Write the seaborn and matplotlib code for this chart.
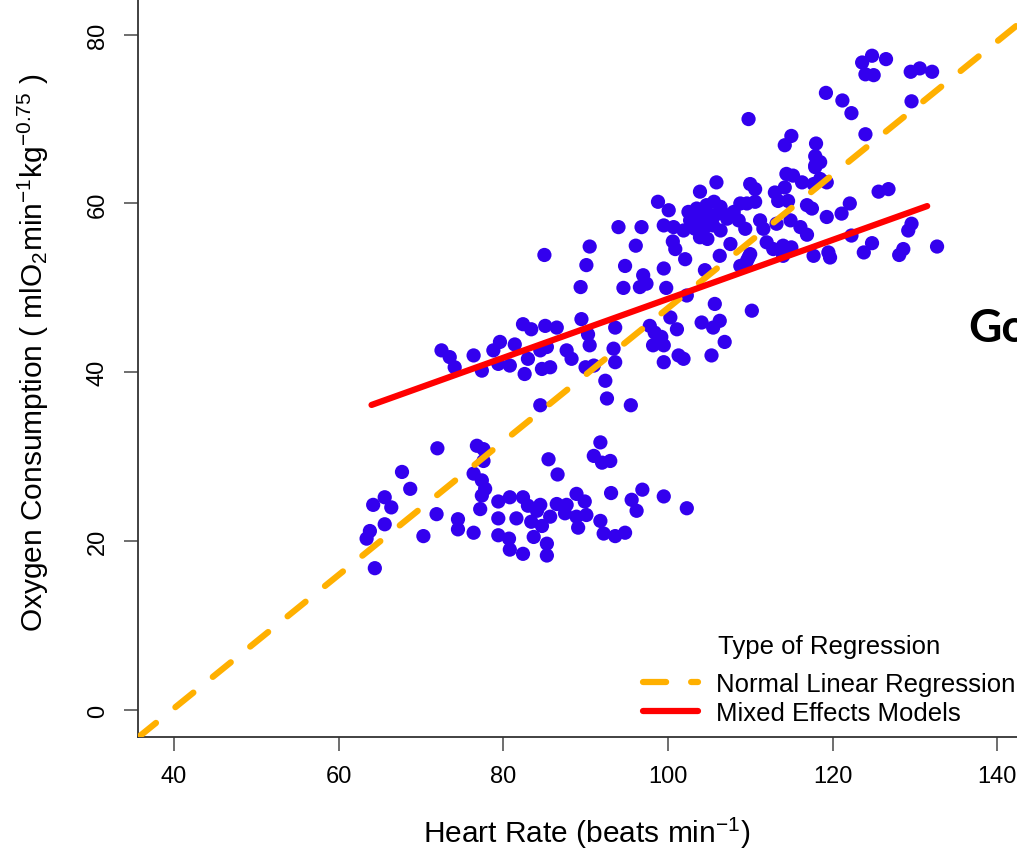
import matplotlib
matplotlib.use('Agg')
import matplotlib.pyplot as plt
from matplotlib.lines import Line2D
import numpy as np
import pandas as pd
import seaborn as sns

# heart rate (x) and oxygen consumption (y), by cluster
low_hr = [72.0, 76.8, 77.6, 77.6, 67.7, 68.7, 76.4, 77.4, 77.8, 77.4, 77.2, 65.6, 64.2, 66.4,
          71.9, 65.6, 63.8, 63.4, 70.3, 64.4, 74.5, 74.5, 76.4, 79.4, 80.8, 82.4, 83.0, 84.5,
          84.1, 79.4, 81.6, 83.4, 84.7, 85.7, 79.4, 80.7, 80.8, 82.4, 83.7, 85.3, 85.3, 85.5,
          86.6, 86.5, 87.7, 88.9, 89.9, 87.5, 88.9, 90.1, 89.1, 91.8, 91.0, 92.0, 93.0, 93.1,
          91.8, 92.2, 93.6, 94.8, 95.6, 96.2, 96.9, 99.5, 102.3]
low_vo2 = [31.0, 31.3, 30.9, 29.5, 28.2, 26.2, 28.0, 27.2, 26.2, 25.4, 23.8, 25.2, 24.3, 24.0,
           23.2, 22.0, 21.2, 20.3, 20.6, 16.8, 22.6, 21.4, 21.0, 24.7, 25.2, 25.2, 24.2, 24.3,
           23.6, 22.7, 22.7, 22.3, 21.8, 22.9, 20.7, 20.3, 19.0, 18.5, 20.5, 19.7, 18.3, 29.7,
           27.9, 24.4, 24.3, 25.6, 24.7, 23.3, 22.9, 23.1, 21.6, 31.7, 30.1, 29.3, 29.5, 25.7,
           22.4, 20.9, 20.6, 21.0, 24.9, 23.6, 26.1, 25.3, 23.9]

left_hr = [72.5, 73.5, 74.1, 76.4, 77.4, 78.8, 79.6, 79.4, 80.8, 81.4, 82.4, 83.4, 82.6, 83.0,
           84.5, 85.1, 86.5, 84.7, 85.7, 85.3, 87.7, 88.3, 89.5, 90.3, 90.5, 91.0, 90.0, 93.6,
           93.4, 93.6, 92.4, 92.6, 95.5, 84.5, 85.0, 90.5, 90.1, 89.4, 94.0]
left_vo2 = [42.6, 41.8, 40.6, 42.0, 40.2, 42.6, 43.6, 41.0, 40.8, 43.3, 45.7, 45.1, 39.8, 41.6,
            42.6, 45.5, 45.3, 40.4, 40.6, 43.0, 42.6, 41.6, 46.3, 44.5, 43.2, 40.8, 40.6, 45.3,
            42.8, 41.2, 39.0, 36.9, 36.1, 36.1, 53.9, 54.9, 52.7, 50.1, 57.2]

mid_hr = [96.1, 96.8, 94.8, 94.6, 97.0, 96.6, 97.4, 99.5, 99.8, 102.1, 104.5, 100.6, 100.9,
          102.3, 105.7, 100.3, 101.1, 104.1, 105.5, 105.3, 97.8, 98.4, 99.2, 98.2, 99.5, 99.5,
          101.3, 101.9, 106.3, 106.3, 106.9, 110.2, 107.6, 109.8, 108.8]
mid_vo2 = [55.0, 57.2, 52.6, 50.0, 51.5, 50.1, 50.5, 52.3, 50.0, 53.4, 52.1, 55.5, 54.6,
           49.1, 48.1, 46.5, 45.1, 45.9, 45.3, 42.0, 45.5, 44.7, 44.2, 43.2, 43.2, 41.2,
           42.0, 41.6, 53.8, 46.1, 43.6, 47.3, 55.2, 53.6, 52.6]

dense_hr = [98.8, 100.1, 99.5, 100.7, 105.9, 103.9, 102.5, 103.5, 104.7, 105.6, 106.4, 102.7,
            103.7, 104.7, 105.7, 106.7, 103.3, 104.5, 105.5, 101.9, 103.9, 104.8, 106.4, 107.2,
            108.0, 108.8, 108.6, 109.4, 110.0, 110.6, 109.6, 110.6, 111.2, 111.6, 112.0, 113.0,
            113.4, 114.2, 114.4, 114.6, 113.2, 114.9, 116.1, 116.9, 117.7, 117.9, 116.3, 116.9,
            117.5, 114.0, 115.0, 112.8, 114.0, 117.7, 110.0, 109.6]
dense_vo2 = [60.2, 59.2, 57.4, 57.2, 62.5, 61.4, 59.0, 59.4, 59.8, 60.2, 59.6, 58.0,
             58.2, 58.4, 58.6, 58.8, 57.0, 57.2, 57.4, 56.8, 56.0, 55.8, 56.8, 58.2,
             59.0, 60.0, 58.0, 57.0, 62.3, 61.7, 60.0, 60.2, 58.0, 57.0, 55.4, 61.3,
             60.3, 61.9, 63.5, 60.3, 57.6, 58.0, 57.2, 59.8, 62.3, 64.5, 62.5, 56.3,
             59.4, 55.0, 54.8, 54.6, 53.8, 53.8, 54.0, 53.2]

right_hr = [124.8, 123.6, 126.5, 124.0, 125.0, 129.5, 130.6, 132.1, 129.6, 119.2, 121.2, 122.3,
            109.8, 124.0, 115.0, 114.2, 118.0, 117.9, 118.5, 117.9, 115.2, 119.3, 118.5, 122.1,
            125.6, 126.8, 119.3, 121.1, 122.3, 124.8, 123.8, 129.6, 129.2, 128.6, 128.1, 132.7,
            119.5, 119.7]
right_vo2 = [77.5, 76.7, 77.1, 75.3, 75.2, 75.6, 76.0, 75.6, 72.1, 73.1, 72.2, 70.7,
             70.0, 68.2, 68.0, 66.9, 67.1, 65.6, 64.9, 64.3, 63.3, 62.5, 62.9, 60.0,
             61.4, 61.7, 58.4, 58.8, 56.2, 55.3, 54.2, 57.6, 56.8, 54.6, 53.9, 54.9,
             54.2, 53.6]

# fitted lines: (intercept, slope)
lm_coef = (-31.4, 0.79)        # normal linear regression
mixed_coef = (13.8, 0.349)     # mixed effects model
mixed_range = (64.0, 131.5)

x_ticks = [40, 60, 80, 100, 120, 140]
y_ticks = [0, 20, 40, 60, 80]
legend_labels = ['Normal Linear Regression', 'Mixed Effects Models']

df = pd.DataFrame({
    'hr': low_hr + left_hr + mid_hr + dense_hr + right_hr,
    'vo2': low_vo2 + left_vo2 + mid_vo2 + dense_vo2 + right_vo2,
})

sns.set_style('ticks')
plt.rcParams['font.family'] = ['Liberation Sans', 'DejaVu Sans']
plt.rcParams['mathtext.default'] = 'regular'
plt.rcParams['text.color'] = 'black'

point_col = '#3300ee'
lm_col = '#ffb000'
mixed_col = '#ff0000'

W, H = 1017, 854
fig = plt.figure(figsize=(W / 100, H / 100), dpi=100)
ax = fig.add_axes([0.1357, 0.1358, 0.95, 0.95])

sns.scatterplot(data=df, x='hr', y='vo2', color=point_col, s=105, edgecolor='none',
                linewidth=0, ax=ax, zorder=2, legend=False)

xmin, xmax = 35.63, 153.0
ax.set_xlim(xmin, xmax)
ax.set_ylim(-3.2, 92.9)

xs = np.array([xmin, xmax])
ax.plot(xs, lm_coef[0] + lm_coef[1] * xs, color=lm_col, lw=4.5, dashes=(3.7, 4.0),
        dash_capstyle='round', zorder=3)
xr = np.array(mixed_range)
ax.plot(xr, mixed_coef[0] + mixed_coef[1] * xr, color=mixed_col, lw=4.5,
        solid_capstyle='round', zorder=3)

ax.set_xticks(x_ticks)
ax.set_yticks(y_ticks)
ax.tick_params(axis='both', direction='out', length=10, width=1.2, color='#555555',
               labelsize=17, labelcolor='black')
ax.tick_params(axis='x', pad=10)
ax.tick_params(axis='y', pad=11)
for lab in ax.get_yticklabels():
    lab.set_rotation(90)
    lab.set_va('center')
ax.spines['top'].set_visible(False)
ax.spines['right'].set_visible(False)
for side in ['left', 'bottom']:
    ax.spines[side].set_linewidth(1.3)
    ax.spines[side].set_color('#333333')
ax.set_xlabel('')
ax.set_ylabel('')

fig.text(587 / W, 1 - 843 / H, 'Heart Rate (beats min$^{-1}$)', ha='center', va='baseline',
         fontsize=21.5)
fig.text(43 / W, 1 - 353 / H,
         'Oxygen Consumption ( mlO$_2$min$^{-1}$kg$^{-0.75}$ )',
         ha='center', va='baseline', rotation=90, rotation_mode='anchor', fontsize=21.5)

handles = [Line2D([], [], color=lm_col, lw=4.5, dashes=(3.7, 4.0), dash_capstyle='round'),
           Line2D([], [], color=mixed_col, lw=4.5, solid_capstyle='round')]
ax.legend(handles, legend_labels, loc='upper left', bbox_to_anchor=(643 / W, 1 - 673 / H),
          bbox_transform=fig.transFigure, frameon=False, fontsize=18.5, handlelength=2.15,
          handletextpad=0.7, labelspacing=0.18, borderaxespad=0, borderpad=0)
fig.text(718 / W, 1 - 647 / H, 'Type of Regression', ha='left', va='center', fontsize=18.5)

fig.text(968 / W, 1 - 342 / H, 'Go', ha='left', va='baseline', fontsize=33,
         fontweight='bold', family=['Lato', 'Liberation Sans'])

fig.savefig('out.png', dpi=100)
